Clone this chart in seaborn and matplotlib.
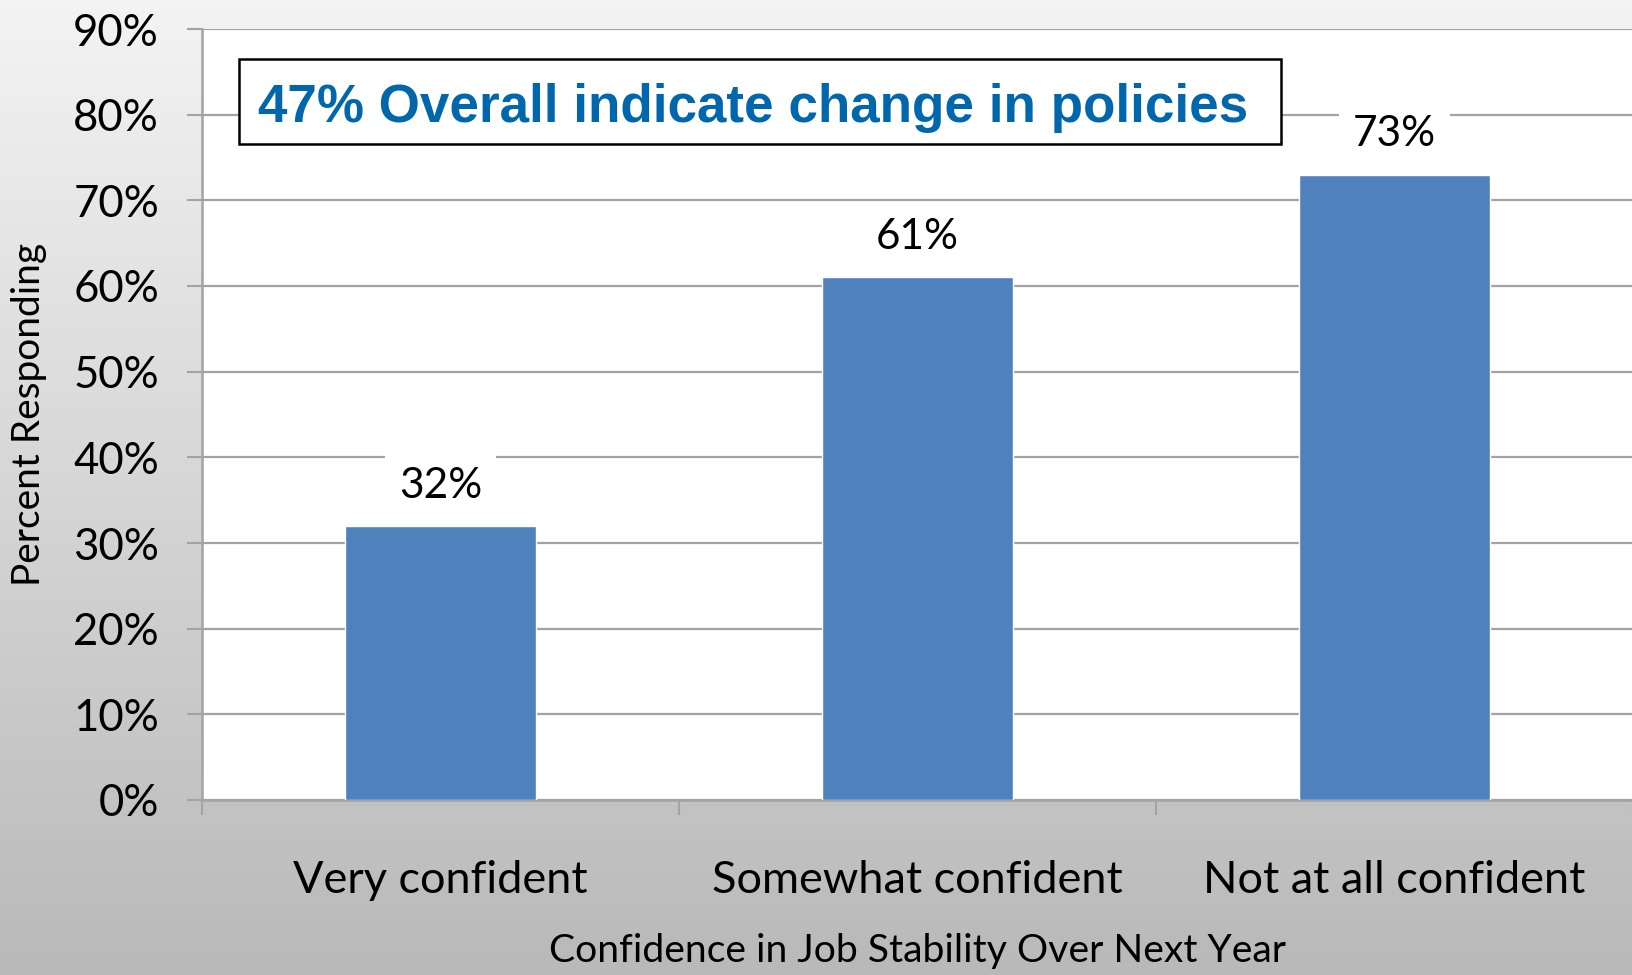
import numpy as np
import pandas as pd
import matplotlib
matplotlib.use("Agg")
import matplotlib.pyplot as plt
import matplotlib.patches as mpatches
import seaborn as sns

# Survey results
categories = ["Very confident", "Somewhat confident", "Not at all confident"]
percent_responding = [32, 61, 73]
value_labels = ["32%", "61%", "73%"]
y_ticks = [0, 10, 20, 30, 40, 50, 60, 70, 80, 90]
y_tick_labels = [f"{v}%" for v in y_ticks]
callout_text = "47% Overall indicate change in policies"
x_title = "Confidence in Job Stability Over Next Year"
y_title = "Percent Responding"

sns.set_theme(style="white")
plt.rcParams["font.family"] = ["Lato", "DejaVu Sans"]
plt.rcParams["text.color"] = "black"
plt.rcParams["axes.labelcolor"] = "black"
plt.rcParams["xtick.color"] = "black"
plt.rcParams["ytick.color"] = "black"

df = pd.DataFrame({"category": categories, "value": percent_responding})

W, H, DPI = 1633, 975, 100
fig = plt.figure(figsize=(W / DPI, H / DPI), dpi=DPI)

# vertical grey gradient behind everything
bg = fig.add_axes([0, 0, 1, 1], zorder=-10)
grad = np.linspace(0.955, 0.725, 256).reshape(-1, 1)
bg.imshow(np.dstack([grad, grad, grad]), aspect="auto", extent=[0, 1, 0, 1])
bg.set_axis_off()

ax = fig.add_axes([202 / W, 1 - 800 / H, 1 - 202 / W, (800 - 29) / H])
ax.set_facecolor("white")

sns.barplot(data=df, x="category", y="value", color="#4F81BD", width=0.40,
            saturation=1, ax=ax, zorder=3)

ax.set_ylim(0, 90)
ax.set_xlim(-0.5, len(categories) - 0.5)

grid_col = "#a3a3a3"
ax.set_yticks(y_ticks)
ax.set_yticklabels(y_tick_labels)
ax.yaxis.grid(True, color=grid_col, linewidth=1.6, zorder=0)
ax.set_axisbelow(True)

# category boundaries carry the tick marks; labels sit at category centres
ax.set_xticks(np.arange(-0.5, len(categories) + 0.5, 1.0))
ax.set_xticklabels([])
ax.set_xticks(np.arange(len(categories)), minor=True)
ax.set_xticklabels(categories, minor=True)

ax.tick_params(axis="y", which="major", direction="out", length=11, width=1.5,
               color=grid_col, labelsize=31.5, pad=20, left=True, labelcolor="black")
ax.tick_params(axis="x", which="major", direction="out", length=11, width=1.5,
               color=grid_col, bottom=True)
ax.tick_params(axis="x", which="minor", length=0, labelsize=32.5, pad=43,
               labelcolor="black")

for side in ["top", "right"]:
    ax.spines[side].set_visible(False)
for side in ["left", "bottom"]:
    ax.spines[side].set_color(grid_col)
    ax.spines[side].set_linewidth(1.8)

ax.set_xlabel(x_title, fontsize=28.2, labelpad=23)
ax.set_ylabel(y_title, fontsize=28)
ax.yaxis.label.set_va("center")
ax.yaxis.set_label_coords(-0.121, 0.5)

# value labels above bars, on a white patch that hides the gridline
for i, (v, lab) in enumerate(zip(percent_responding, value_labels)):
    ax.annotate(lab, xy=(i, v), xytext=(0, 29), textcoords="offset points",
                ha="center", va="center", fontsize=30.5, color="black", zorder=5,
                bbox=dict(boxstyle="square,pad=0.33", fc="white", ec="none"))

# callout box
fig.add_artist(mpatches.Rectangle((238.5 / W, 1 - 144 / H), 1042.5 / W, 85 / H,
                                  transform=fig.transFigure, fc="white",
                                  ec="black", lw=1.8, zorder=5))
fig.text(753.5 / W, 1 - 121.7 / H, callout_text, ha="center", va="baseline",
         fontsize=38.2, fontweight="bold", color="#0067AC",
         family=["Liberation Sans", "DejaVu Sans"], zorder=6)

fig.savefig("out.png", dpi=DPI)
